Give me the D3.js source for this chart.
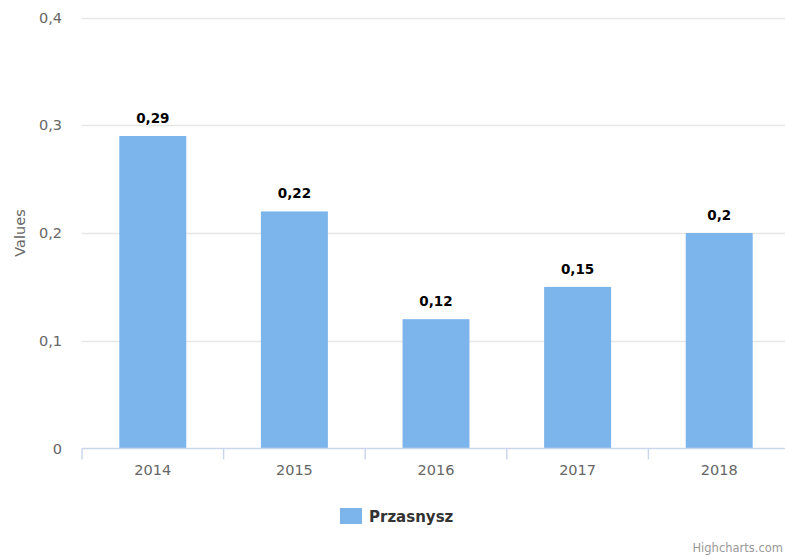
<!DOCTYPE html>
<html><head><meta charset="utf-8">
<script src="https://cdn.jsdelivr.net/npm/d3@7"></script>
<style>body{margin:0;background:#fff;}svg{display:block;font-family:"DejaVu Sans",sans-serif;}</style>
</head><body>
<svg id="c" width="785" height="556"></svg>
<script>
const categories = ["2014","2015","2016","2017","2018"];
const values = [0.29, 0.22, 0.12, 0.15, 0.2];
const yTicks = [0, 0.1, 0.2, 0.3, 0.4];
const seriesName = "Przasnysz";
const yTitle = "Values";

(function () {
const fmt = v => String(v).replace(".", ",");
const svg = d3.select("#c");
const pLeft = 82, pRight = 790, pTop = 17.5, pBottom = 448.5;
const x = d3.scaleBand().domain(categories).range([pLeft, pRight]).padding(0);
const y = d3.scaleLinear().domain([0, 0.4]).range([pBottom, pTop]);
const barW = x.bandwidth() * 0.473;

// gridlines
svg.append("g").selectAll("line").data(yTicks.filter(t => t > 0)).join("line")
  .attr("x1", pLeft).attr("x2", pRight)
  .attr("y1", d => Math.round(y(d)) + 0.5).attr("y2", d => Math.round(y(d)) + 0.5)
  .attr("stroke", "#e6e6e6").attr("stroke-width", 1.5);

// y labels
svg.append("g").selectAll("text").data(yTicks).join("text")
  .attr("x", 62).attr("y", d => y(d) + 5)
  .attr("text-anchor", "end").attr("fill", "#666").style("font-size", "14.5px")
  .text(d => fmt(d));

// y title
svg.append("text").attr("transform", "translate(25,233) rotate(-90)")
  .attr("text-anchor", "middle").attr("fill", "#666").style("font-size", "14.5px").text(yTitle);

// bars
svg.append("g").selectAll("rect").data(values).join("rect")
  .attr("x", (d, i) => x(categories[i]) + x.bandwidth() / 2 - barW / 2)
  .attr("y", d => y(d)).attr("width", barW).attr("height", d => y(0) - y(d))
  .attr("fill", "#7cb5ec");

// x axis
const xa = svg.append("g");
xa.append("line").attr("x1", pLeft).attr("x2", pRight).attr("y1", pBottom).attr("y2", pBottom)
  .attr("stroke", "#ccd6eb").attr("stroke-width", 1.5);
const bounds = categories.map(c => x(c)).concat([pRight]);
xa.selectAll("line.t").data(bounds).join("line").attr("class", "t")
  .attr("x1", d => d).attr("x2", d => d).attr("y1", pBottom).attr("y2", pBottom + 11)
  .attr("stroke", "#ccd6eb").attr("stroke-width", 1.5);
xa.selectAll("text").data(categories).join("text")
  .attr("x", d => x(d) + x.bandwidth() / 2).attr("y", 475)
  .attr("text-anchor", "middle").attr("fill", "#666").style("font-size", "14.5px").text(d => d);

// data labels
svg.append("g").selectAll("text").data(values).join("text")
  .attr("x", (d, i) => x(categories[i]) + x.bandwidth() / 2).attr("y", d => y(d) - 13)
  .attr("text-anchor", "middle").attr("fill", "#000").style("font-size", "13.5px").style("font-weight", "bold")
  .attr("stroke", "#fff").attr("stroke-width", 2).attr("paint-order", "stroke")
  .text(d => fmt(d));

// legend
svg.append("rect").attr("x", 340).attr("y", 508).attr("width", 22).attr("height", 16).attr("fill", "#7cb5ec");
svg.append("text").attr("x", 369).attr("y", 521.5).attr("fill", "#333")
  .style("font-size", "15px").style("font-weight", "bold").text(seriesName);

// credits
svg.append("text").attr("x", 783).attr("y", 552).attr("text-anchor", "end").attr("fill", "#999")
  .style("font-size", "11.5px").text("Highcharts.com");
})();
</script>
</body></html>
